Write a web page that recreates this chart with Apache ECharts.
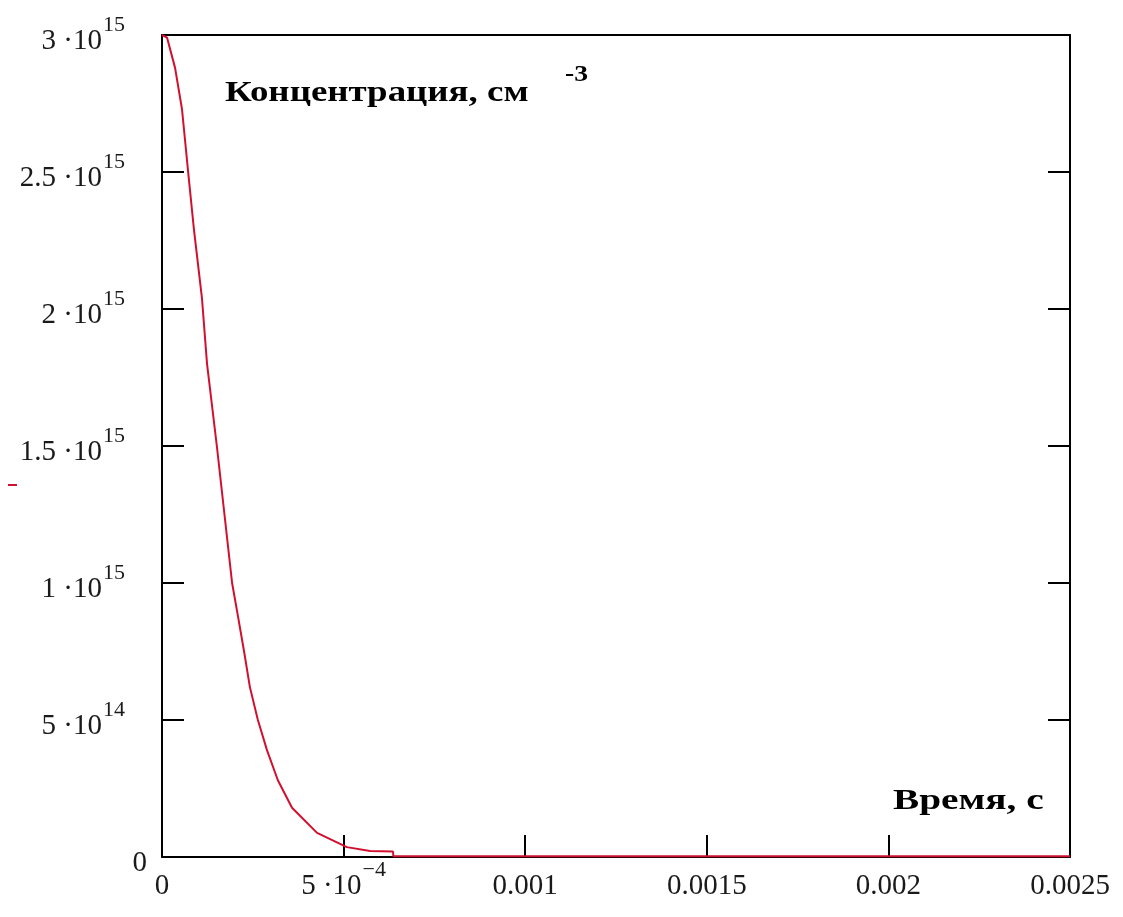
<!DOCTYPE html>
<html>
<head>
<meta charset="utf-8">
<script src="https://cdn.jsdelivr.net/npm/echarts@6/dist/echarts.min.js"></script>
<style>
  html, body { margin: 0; padding: 0; background: #fff; }
  #chart { width: 1123px; height: 917px; }
</style>
</head>
<body>
<div id="chart"></div>
<script>
// Time samples, s
const times = [0, 1.4e-5, 3.6e-5, 5.5e-5, 7.2e-5, 8.8e-5, 1.10e-4, 1.24e-4, 1.51e-4, 1.72e-4,
  1.93e-4, 2.09e-4, 2.26e-4, 2.42e-4, 2.64e-4, 2.89e-4, 3.19e-4, 3.58e-4, 4.27e-4, 5.09e-4,
  5.73e-4, 6.36e-4, 6.37e-4, 2.5e-3];
// Concentration, cm^-3
const concentration = [3.0e15, 2.99e15, 2.88e15, 2.73e15, 2.50e15, 2.29e15, 2.04e15, 1.80e15, 1.50e15, 1.25e15,
  1.00e15, 0.88e15, 0.75e15, 0.62e15, 0.50e15, 0.39e15, 0.28e15, 0.18e15, 0.088e15, 0.036e15,
  0.022e15, 0.020e15, 0.003e15, 0.003e15];

// Tick labels: [mantissa part, exponent]
const xTickLabels = [['0', ''], ['5 ·10', '\u22124'], ['0.001', ''], ['0.0015', ''], ['0.002', ''], ['0.0025', '']];
const yTickLabels = [['0', ''], ['5 ·10', '14'], ['1 ·10', '15'], ['1.5 ·10', '15'], ['2 ·10', '15'], ['2.5 ·10', '15'], ['3 ·10', '15']];

const SERIF = '"Liberation Serif", "Times New Roman", serif';
const INK = '#1a1a1a';
const RED = '#d0102e';

function tickText(parts, padRight) {
  if (!parts[1]) return '{b|' + parts[0] + '}';
  return '{b|' + parts[0] + '}{' + (padRight ? 'sp' : 's') + '|' + parts[1] + '}';
}

// mantissa sits low in the line box, exponent sits at its top
const richLabels = {
  b: { fontFamily: SERIF, fontSize: 29, color: INK, padding: [13, 0, 0, 0] },
  s: { fontFamily: SERIF, fontSize: 22, color: INK, padding: [0, 0, 20, 1] },
  sp: { fontFamily: SERIF, fontSize: 22, color: INK, padding: [0, 22, 20, 1] }
};

const axisLine = { show: true, onZero: false, lineStyle: { color: '#000', width: 2 } };
const axisTick = { show: true, inside: true, length: 22, lineStyle: { color: '#000', width: 2 } };

const chart = echarts.init(document.getElementById('chart'), null, { renderer: 'canvas' });

chart.setOption({
  animation: false,
  backgroundColor: '#fff',
  grid: { left: 162, top: 35, right: 53, bottom: 60, containLabel: false },
  xAxis: [
    {
      type: 'value', position: 'bottom', min: 0, max: 0.0025, interval: 0.0005,
      axisLine: axisLine, axisTick: axisTick, splitLine: { show: false },
      axisLabel: {
        margin: 2,
        formatter: (v, i) => tickText(xTickLabels[i] || ['', ''], false),
        rich: richLabels
      }
    },
    {
      type: 'value', position: 'top', min: 0, max: 0.0025, interval: 0.0005,
      axisLine: axisLine, axisTick: { show: false }, axisLabel: { show: false }, splitLine: { show: false }
    }
  ],
  yAxis: [
    {
      type: 'value', position: 'left', min: 0, max: 3e15, interval: 5e14,
      axisLine: axisLine, axisTick: axisTick, splitLine: { show: false },
      axisLabel: {
        margin: 15,
        formatter: (v, i) => tickText(yTickLabels[i] || ['', ''], true),
        rich: richLabels
      }
    },
    {
      type: 'value', position: 'right', min: 0, max: 3e15, interval: 5e14,
      axisLine: axisLine, axisTick: axisTick, axisLabel: { show: false }, splitLine: { show: false }
    }
  ],
  series: [
    {
      type: 'line',
      xAxisIndex: 0,
      yAxisIndex: 0,
      showSymbol: false,
      smooth: false,
      clip: true,
      lineStyle: { color: RED, width: 2 },
      data: times.map((t, i) => [t, concentration[i]])
    }
  ],
  graphic: [
    {
      type: 'text', x: 225, y: 93, scaleX: 1.23,
      style: { text: 'Концентрация, см', font: 'bold 30px ' + SERIF, fill: '#000', verticalAlign: 'middle', align: 'left' }
    },
    {
      type: 'text', x: 565, y: 75, scaleX: 1.15,
      style: { text: '-3', font: 'bold 24px ' + SERIF, fill: '#000', verticalAlign: 'middle', align: 'left' }
    },
    {
      type: 'text', x: 893, y: 801, scaleX: 1.31,
      style: { text: 'Время, с', font: 'bold 30px ' + SERIF, fill: '#000', verticalAlign: 'middle', align: 'left' }
    },
    {
      type: 'line',
      shape: { x1: 8, y1: 485, x2: 17, y2: 485 },
      style: { stroke: RED, lineWidth: 2 }
    }
  ]
});
</script>
</body>
</html>
